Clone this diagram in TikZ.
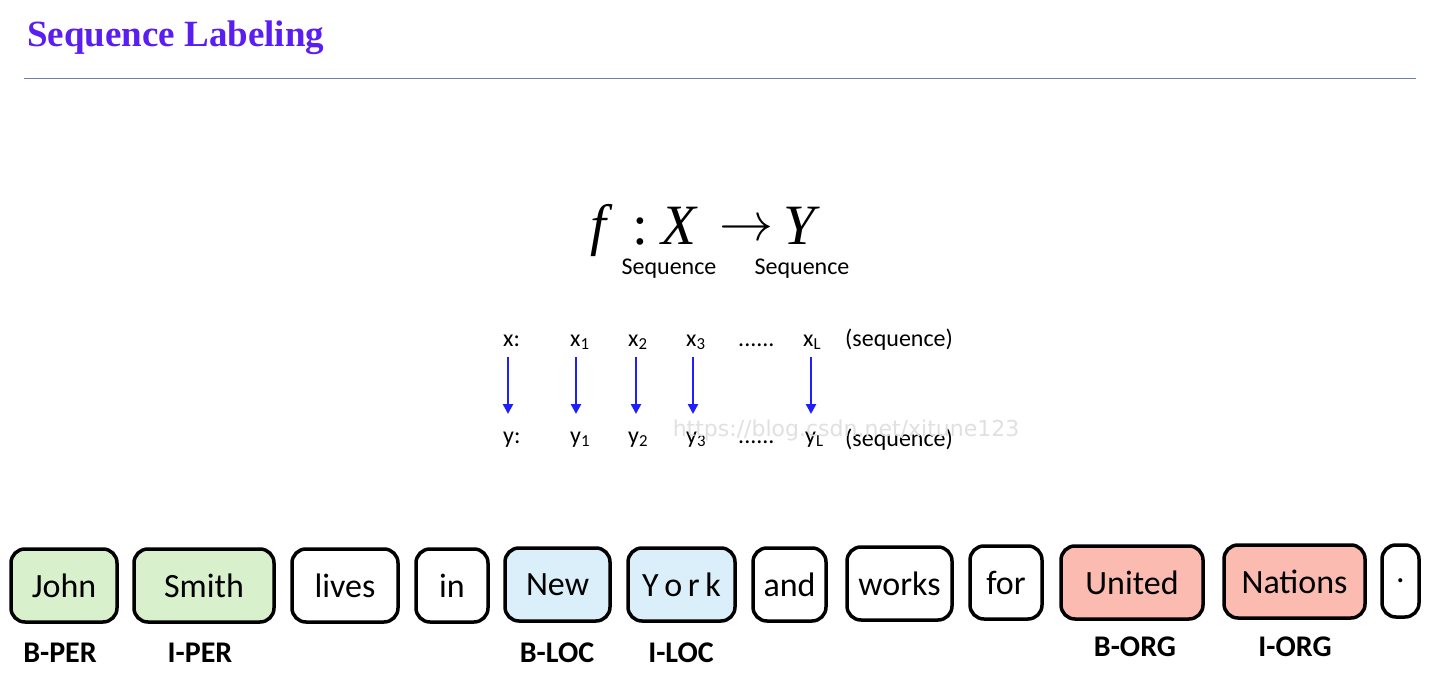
\documentclass[tikz,border=0pt]{standalone}
\usepackage{fontspec}
\setmainfont{Liberation Serif}
\newfontfamily\carl{Carlito}
\newfontfamily\wmfont{DejaVu Sans}
\usetikzlibrary{arrows.meta}
\definecolor{titlec}{RGB}{90,30,240}
\definecolor{rulec}{RGB}{110,125,170}
\definecolor{perc}{RGB}{217,240,204}
\definecolor{locc}{RGB}{218,239,249}
\definecolor{orgc}{RGB}{251,187,176}
\definecolor{arrc}{RGB}{30,30,255}
\tikzset{
  tok/.style={draw=black, line width=3.5pt, rounded corners=14pt, minimum height=73pt, inner sep=0pt, font=\carl\fontsize{34}{40}\selectfont},
  tag/.style={font=\carl\bfseries\fontsize{30}{36}\selectfont},
  seq/.style={font=\carl\fontsize{24}{28}\selectfont, inner sep=0pt},
  fml/.style={font=\fontsize{57}{64}\selectfont, inner sep=0pt, anchor=base},
  marr/.style={draw=arrc, line width=2.8pt, -{Triangle[length=10pt,width=10pt]}},
}
\begin{document}
\begin{tikzpicture}[x=1pt,y=-1pt]
\useasboundingbox (0,0) rectangle (1434,692);
% title
\node[anchor=base west, inner sep=0pt, text=titlec, font=\bfseries\fontsize{37}{44}\selectfont] (title) at (27,47) {Sequence Labeling};
\coordinate (rl) at (24,79);
\coordinate (rr) at (1416,79);
\draw[rulec, line width=1pt] (rl) -- (rr);
% formula
\node[fml] (ff) at (602,245) {\textit{f}};
\node[fml] (fc) at (640,245) {:};
\node[fml] (fx) at (680,245) {\textit{X}};
\node[inner sep=0pt] (fa) at (746,231) {\resizebox{54pt}{!}{$\rightarrow$}};
\node[fml] (fy) at (802,245) {\textit{Y}};
\node[seq, anchor=base] (sx) at (669,275) {Sequence};
\node[seq, anchor=base] (sy) at (802,275) {Sequence};
% x row
\node[seq, anchor=base west] (x0) at (503,346) {x:};
\node[seq, anchor=base west] (x1) at (570,346) {x\textsubscript{1}};
\node[seq, anchor=base west] (x2) at (628,346) {x\textsubscript{2}};
\node[seq, anchor=base west] (x3) at (686,346) {x\textsubscript{3}};
\node[seq, anchor=base west] (xd) at (738,346) {......};
\node[seq, anchor=base west] (xL) at (803,346) {x\textsubscript{L}};
\node[seq, anchor=base west] (xs) at (845,346) {(sequence)};
% y row
\node[seq, anchor=base west] (y0) at (503,443) {y:};
\node[seq, anchor=base west] (y1) at (570,443) {y\textsubscript{1}};
\node[seq, anchor=base west] (y2) at (628,443) {y\textsubscript{2}};
\node[seq, anchor=base west] (y3) at (686,443) {y\textsubscript{3}};
\node[seq, anchor=base west] (yd) at (738,443) {......};
\node[seq, anchor=base west] (yL) at (805,443) {y\textsubscript{L}};
\node[seq, anchor=base west] (ys) at (845,446) {(sequence)};
% arrows
\coordinate (a0t) at (508,357); \coordinate (a0b) at (508,414);
\coordinate (a1t) at (576,357); \coordinate (a1b) at (576,414);
\coordinate (a2t) at (636,357); \coordinate (a2b) at (636,414);
\coordinate (a3t) at (693,357); \coordinate (a3b) at (693,414);
\coordinate (aLt) at (811,357); \coordinate (aLb) at (811,414);
\draw[marr] (a0t) -- (a0b);
\draw[marr] (a1t) -- (a1b);
\draw[marr] (a2t) -- (a2b);
\draw[marr] (a3t) -- (a3b);
\draw[marr] (aLt) -- (aLb);
% watermark
\node[font=\wmfont\fontsize{22}{26}\selectfont, text=black!12, inner sep=0pt] (wm) at (846,430) {https://blog.csdn.net/xitune123};
% tokens
\node[tok, fill=perc, minimum width=106pt] (t1) at (64,585.5) {John};
\node[tok, fill=perc, minimum width=140pt] (t2) at (204,585.5) {Smith};
\node[tok, fill=white, minimum width=106pt] (t3) at (345,585.5) {lives};
\node[tok, fill=white, minimum width=72pt] (t4) at (452,585.5) {in};
\node[tok, fill=locc, minimum width=105pt] (t5) at (557.5,584.5) {New};
\node[tok, fill=locc, minimum width=107pt] (t6) at (681.5,584.5) {Y\,o\,r\,k};
\node[tok, fill=white, minimum width=73pt] (t7) at (789.5,584.5) {and};
\node[tok, fill=white, minimum width=105pt] (t8) at (899.5,583.5) {works};
\node[tok, fill=white, minimum width=72pt] (t9) at (1006,582.5) {for};
\node[tok, fill=orgc, minimum width=142pt] (t10) at (1132,582.5) {United};
\node[tok, fill=orgc, minimum width=141pt] (t11) at (1294.5,581.5) {Nations};
\node[tok, fill=white, minimum width=37pt, minimum height=72pt] (t12) at (1400.5,581) {.};
% tags
\node[tag] (g1) at (60,653) {B-PER};
\node[tag] (g2) at (200,653) {I-PER};
\node[tag] (g5) at (557,653) {B-LOC};
\node[tag] (g6) at (681,653) {I-LOC};
\node[tag] (g10) at (1135,647) {B-ORG};
\node[tag] (g11) at (1295,647) {I-ORG};
\end{tikzpicture}
\end{document}
